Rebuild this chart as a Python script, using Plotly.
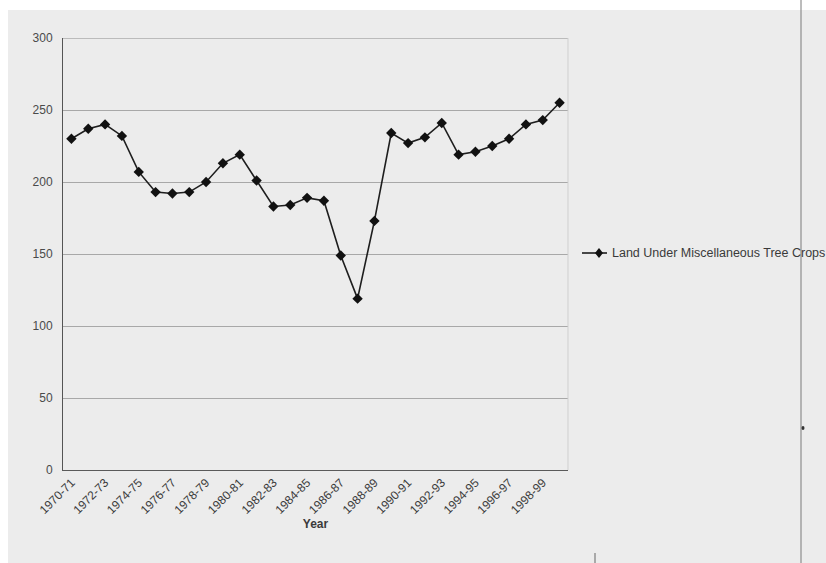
import plotly.graph_objects as go

# Crop years, 1970-71 through 1999-00
years = [f"{y}-{str(y + 1)[-2:]}" for y in range(1970, 2000)]
land_tree_crops = [230, 237, 240, 232, 207, 193, 192, 193, 200, 213,
                   219, 201, 183, 184, 189, 187, 149, 119, 173, 234,
                   227, 231, 241, 219, 221, 225, 230, 240, 243, 255]
series_name = "Land Under Miscellaneous Tree Crops"

tick_vals = years[::2]
y_ticks = [0, 50, 100, 150, 200, 250, 300]

W, H = 826, 563
L, R, T, B = 63, 258, 38, 93
PW, PH = W - L - R, H - T - B


def px(x):
    return (x - L) / PW


def py(y):
    return (H - B - y) / PH


fig = go.Figure()
fig.add_trace(go.Scatter(
    x=years, y=land_tree_crops, mode="lines+markers",
    name=series_name, showlegend=False,
    line=dict(color="#1e1e1e", width=1.6),
    marker=dict(symbol="diamond", size=8, color="#111111"),
))

# legend key drawn beside the plot: line sample, diamond, label
ly = py(253)
dx, dy = 4 / PW, 5 / PH
legend_shapes = [
    dict(type="line", xref="paper", yref="paper", x0=px(582), x1=px(607), y0=ly, y1=ly,
         line=dict(color="#1e1e1e", width=1.6)),
    dict(type="path", xref="paper", yref="paper",
         path=(f"M {px(599) - dx} {ly} L {px(599)} {ly + dy} "
               f"L {px(599) + dx} {ly} L {px(599)} {ly - dy} Z"),
         fillcolor="#111111", line=dict(width=0)),
]

fig.add_annotation(
    x=px(610), y=ly, xref="paper", yref="paper", xanchor="left", yanchor="middle",
    text=series_name, showarrow=False,
    font=dict(size=12.5, color="#3a3a3a"),
)

fig.update_layout(
    width=W, height=H,
    margin=dict(l=L, r=R, t=T, b=B),
    paper_bgcolor="#ececec",
    plot_bgcolor="#ececec",
    font=dict(family="Liberation Sans, Arial, sans-serif", color="#3a3a3a", size=12),
    showlegend=False,
    xaxis=dict(
        type="category", categoryorder="array", categoryarray=years,
        range=[-0.5, len(years) - 0.5],
        tickmode="array", tickvals=tick_vals, ticktext=tick_vals,
        tickangle=-45, showgrid=False, zeroline=False,
        showline=True, linecolor="#5a5a5a", linewidth=1,
        ticks="", tickfont=dict(size=12, color="#3a3a3a"),
        title=dict(text="<b>Year</b>", font=dict(size=12, color="#3a3a3a"), standoff=0),
    ),
    yaxis=dict(
        range=[0, 300], tickvals=y_ticks,
        showgrid=True, gridcolor="#a8a8a8", gridwidth=1,
        zeroline=False, showline=True, linecolor="#555555", linewidth=1,
        ticks="", ticklabelstandoff=7, tickfont=dict(size=12, color="#4a4a4a"),
    ),
    shapes=[
        # white page edges
        dict(type="rect", xref="paper", yref="paper", x0=px(0), x1=px(W),
             y0=py(10), y1=py(0), fillcolor="white", line=dict(width=0), layer="below"),
        dict(type="rect", xref="paper", yref="paper", x0=px(0), x1=px(8),
             y0=py(H), y1=py(0), fillcolor="white", line=dict(width=0), layer="below"),
        # top border of plot area at 300
        dict(type="line", xref="paper", yref="y", x0=0, x1=1, y0=300, y1=300,
             line=dict(color="#8a8a8a", width=1)),
        # right border of plot area
        dict(type="line", xref="paper", yref="paper", x0=1, x1=1, y0=0, y1=1,
             line=dict(color="#cfcfcf", width=1)),
        # page fold line
        dict(type="line", xref="paper", yref="paper", x0=px(801), x1=px(801),
             y0=py(H), y1=py(0), line=dict(color="#7a7a7a", width=1)),
        dict(type="line", xref="paper", yref="paper", x0=px(595), x1=px(595),
             y0=py(H), y1=py(553), line=dict(color="#666666", width=1)),
        dict(type="circle", xref="paper", yref="paper",
             x0=px(801.5), x1=px(804.5), y0=py(430), y1=py(426),
             fillcolor="#333333", line=dict(width=0)),
    ] + legend_shapes,
)

fig.write_html("out.html")
